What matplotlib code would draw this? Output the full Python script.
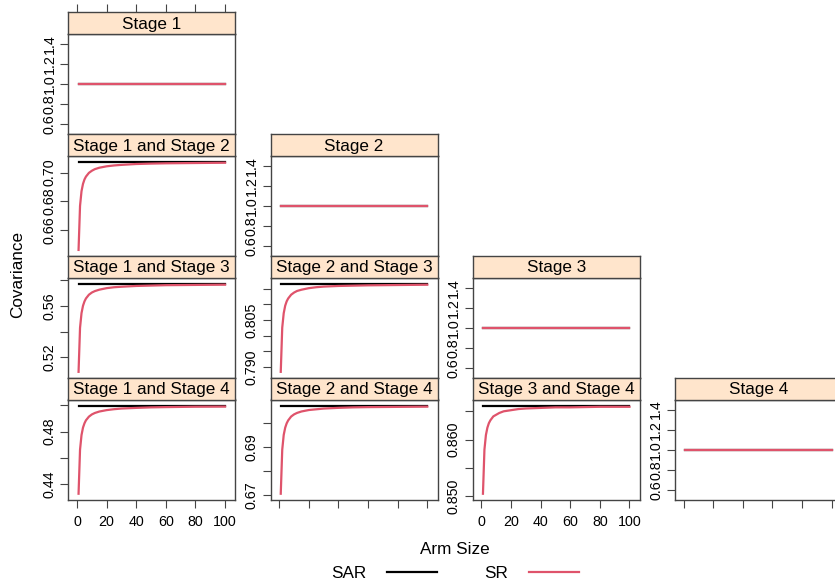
import matplotlib.pyplot as plt

plt.rcParams['font.family'] = ['Liberation Sans', 'DejaVu Sans']

W, H = 835, 586

stages = ["Stage 1", "Stage 2", "Stage 3", "Stage 4"]
arm_size = [1, 2, 3, 4, 5, 6, 8, 10, 12, 15, 20, 25, 30, 40, 50, 60, 80, 100]

# covariance of stage i with itself is 1 for both designs
diag_value = 1.0

# SAR is flat in arm size, SR climbs toward it
sar = {
    (0, 1): 0.7075, (0, 2): 0.5772, (0, 3): 0.4998,
    (1, 2): 0.8166, (1, 3): 0.7071, (2, 3): 0.8660,
}
sr = {
    (0, 1): [0.6459, 0.6767, 0.6870, 0.6921, 0.6952, 0.6972, 0.6998, 0.7013, 0.7024,
             0.7034, 0.7044, 0.7050, 0.7054, 0.7060, 0.7063, 0.7065, 0.7067, 0.7069],
    (0, 2): [0.5088, 0.5430, 0.5544, 0.5601, 0.5635, 0.5658, 0.5687, 0.5704, 0.5715,
             0.5726, 0.5738, 0.5745, 0.5749, 0.5755, 0.5758, 0.5761, 0.5763, 0.5765],
    (0, 3): [0.4324, 0.4661, 0.4773, 0.4830, 0.4863, 0.4886, 0.4914, 0.4931, 0.4942,
             0.4953, 0.4964, 0.4971, 0.4976, 0.4981, 0.4985, 0.4987, 0.4990, 0.4991],
    (1, 2): [0.7885, 0.8026, 0.8072, 0.8096, 0.8110, 0.8119, 0.8131, 0.8138, 0.8143,
             0.8147, 0.8152, 0.8155, 0.8157, 0.8159, 0.8160, 0.8161, 0.8162, 0.8163],
    (1, 3): [0.6707, 0.6889, 0.6950, 0.6980, 0.6998, 0.7010, 0.7026, 0.7035, 0.7041,
             0.7047, 0.7053, 0.7056, 0.7059, 0.7062, 0.7064, 0.7065, 0.7066, 0.7067],
    (2, 3): [0.8504, 0.8582, 0.8608, 0.8621, 0.8629, 0.8634, 0.8641, 0.8644, 0.8647,
             0.8650, 0.8652, 0.8654, 0.8655, 0.8656, 0.8657, 0.8657, 0.8658, 0.8658],
}

# y ticks per panel and the labels that survive overlap checking
diag_ticks = [0.6, 0.8, 1.0, 1.2, 1.4]
diag_labels = ["0.6", "0.8", "1.0", "1.2", "1.4"]
yticks = {
    (0, 1): ([0.66, 0.68, 0.70], ["0.66", "0.68", "0.70"]),
    (0, 2): ([0.52, 0.54, 0.56, 0.58], ["0.52", "", "0.56", ""]),
    (0, 3): ([0.44, 0.46, 0.48, 0.50], ["0.44", "", "0.48", ""]),
    (1, 2): ([0.790, 0.795, 0.800, 0.805, 0.810, 0.815], ["0.790", "", "", "0.805", "", ""]),
    (1, 3): ([0.67, 0.68, 0.69, 0.70], ["0.67", "", "0.69", ""]),
    (2, 3): ([0.850, 0.855, 0.860, 0.865], ["0.850", "", "0.860", ""]),
}
xticks = [0, 20, 40, 60, 80, 100]
xlabels = ["0", "20", "40", "60", "80", "100"]

sar_col = "black"
sr_col = "#DF536B"
strip_col = "#FFE5CC"
frame_col = "#444444"
tick_size = 10.3


def box(left, top, width, height):
    return [left / W, 1 - (top + height) / H, width / W, height / H]


fig = plt.figure(figsize=(W / 100, H / 100), dpi=100)

x_pad = 0.07 * (arm_size[-1] - arm_size[0])
xlim = (arm_size[0] - x_pad, arm_size[-1] + x_pad)

for col in range(4):
    for row in range(col, 4):
        top = 12.3 + 121.9 * row
        left = 68.3 + 202.2 * col
        ax = fig.add_axes(box(left, top + 21.5, 167, 100.4))
        st = fig.add_axes(box(left, top, 167, 21.5))

        if row == col:
            title = stages[row]
            sar_y = [diag_value] * len(arm_size)
            sr_y = [diag_value] * len(arm_size)
            ax.set_ylim(0.5, 1.5)
            ax.set_yticks(diag_ticks)
            ax.set_yticklabels(diag_labels)
        else:
            key = (col, row)
            title = stages[col] + " and " + stages[row]
            sar_y = [sar[key]] * len(arm_size)
            sr_y = sr[key]
            lo = min(sr_y + sar_y)
            hi = max(sr_y + sar_y)
            pad = 0.07 * (hi - lo)
            ax.set_ylim(lo - pad, hi + pad)
            ax.set_yticks(yticks[key][0])
            ax.set_yticklabels(yticks[key][1])

        l_sar, = ax.plot(arm_size, sar_y, color=sar_col, lw=1.6)
        l_sr, = ax.plot(arm_size, sr_y, color=sr_col, lw=1.6)
        ax.set_xlim(xlim)

        ax.tick_params(axis='y', direction='out', length=6, width=0.8,
                       color=frame_col, labelsize=tick_size, pad=2.5)
        for lab in ax.get_yticklabels():
            lab.set_rotation(90)
            lab.set_va('center')

        if row == 3:
            ax.set_xticks(xticks)
            if col in (0, 2):
                ax.set_xticklabels(xlabels)
            else:
                ax.set_xticklabels([""] * len(xticks))
            ax.tick_params(axis='x', direction='out', length=6, width=0.8,
                           color=frame_col, labelsize=tick_size, pad=5)
        else:
            ax.set_xticks([])

        for sp in ax.spines.values():
            sp.set_color(frame_col)
            sp.set_linewidth(1.0)

        st.set_facecolor(strip_col)
        st.set_xlim(xlim)
        st.set_yticks([])
        if row == 0 and col == 0:
            st.xaxis.set_ticks_position('top')
            st.set_xticks(xticks)
            st.set_xticklabels([""] * len(xticks))
            st.tick_params(axis='x', direction='out', length=6, width=0.8,
                           color=frame_col)
        else:
            st.set_xticks([])
        for sp in st.spines.values():
            sp.set_color(frame_col)
            sp.set_linewidth(1.0)
        st.text(0.5, 0.45, title, transform=st.transAxes, ha='center',
                va='center', fontsize=12.3)

fig.text(18 / W, 1 - 274 / H, "Covariance", rotation=90, ha='center',
         va='center', fontsize=12.3)
fig.text(455 / W, 1 - 549 / H, "Arm Size", ha='center', va='center',
         fontsize=12.3)

fig.legend([l_sar, l_sr], ["SAR", "SR"], ncol=2, markerfirst=False,
           frameon=False, loc='center', bbox_to_anchor=(455 / W, 1 - 573 / H),
           fontsize=12.3, handlelength=2.9, handletextpad=1.2,
           columnspacing=2.8)

fig.savefig("out.png", dpi=100)
